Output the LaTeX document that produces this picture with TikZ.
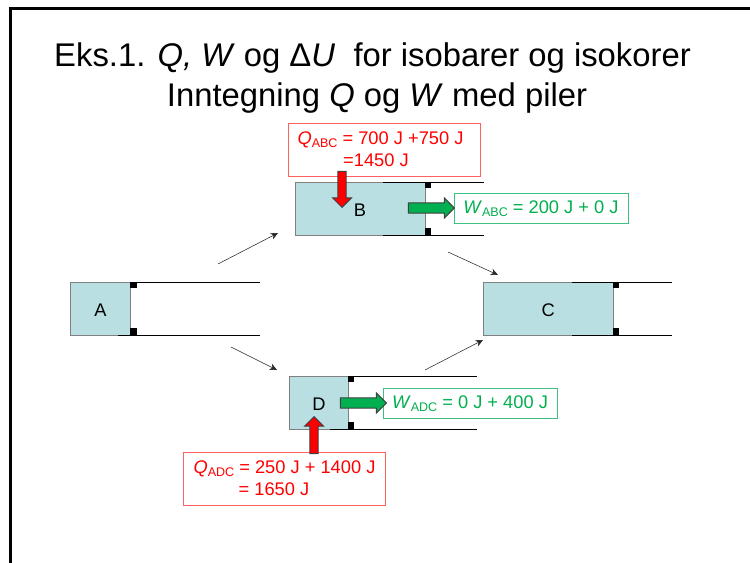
\documentclass[tikz,border=0pt]{standalone}
\usepackage{fontspec}
\setmainfont{Liberation Sans}
\usepackage{xcolor}
\usepackage{tikz}
\usetikzlibrary{shapes.arrows,arrows.meta}

\definecolor{pistonfill}{HTML}{B9DFE3}
\definecolor{qred}{HTML}{FF0000}
\definecolor{qedge}{HTML}{FF6060}
\definecolor{wgreen}{HTML}{00B050}
\definecolor{wedge}{HTML}{40C080}

\newcommand{\lowtext}[1]{\raisebox{-0.3ex}{\fontsize{9.4}{9.4}\selectfont #1}}

\tikzset{
    gas/.style={draw=black!50,line width=0.6pt,fill=pistonfill,inner sep=0pt,text height=11.3pt,text depth=0pt,font=\fontsize{13.7}{13.7}\selectfont},
    stopper/.style={fill=black,inner sep=0pt,minimum size=5pt},
    wall/.style={line width=0.7pt},
    pathline/.style={line width=0.4pt,black!85,-{Stealth[length=5.5pt,width=5pt]}},
    qbox/.style={draw=qedge,line width=0.6pt,fill=white,text=qred,align=center,inner sep=0pt,font=\fontsize{13.7}{16.5}\selectfont},
    wbox/.style={draw=wedge,line width=0.6pt,fill=white,text=wgreen,align=center,inner sep=0pt,text height=12pt,text depth=3.5pt,font=\fontsize{13.7}{16.5}\selectfont},
    heatarrow/.style={single arrow,draw=black!75,line width=0.7pt,fill=qred,anchor=tip,inner xsep=0pt,inner ysep=2.8pt,text width=0pt,text height=0pt,text depth=0pt,single arrow head extend=4pt,single arrow head indent=0pt,rotate=#1},
    workarrow/.style={single arrow,draw=black!75,line width=0.7pt,fill=wgreen,anchor=tip,inner xsep=0pt,inner ysep=3.5pt,text width=0pt,text height=0pt,text depth=0pt,single arrow head extend=3.6pt,single arrow head indent=0pt},
}

\begin{document}
\begin{tikzpicture}[x=0.75pt,y=0.75pt,yscale=-1,xscale=1]
        \useasboundingbox (0,0) rectangle (750,563);
        \draw [line width=2pt] (10.5,563) -- (10.5,8.5) -- (750,8.5) ;

        \node (title) at (372.5,58) [font=\fontsize{24.6}{30}\selectfont] {Eks.1. \textit{Q, W} og Δ\textit{U}\ \ for isobarer og isokorer};
        \node (subtitle) [font=\fontsize{24.6}{30}\selectfont] at (377,98) {Inntegning \textit{Q} og \textit{W} med piler};

        % sylinder A
        \coordinate (Atopstart) at (131,282);
        \coordinate (Atopend) at (260,282);
        \coordinate (Abotstart) at (118,335);
        \coordinate (Abotend) at (260,335);
        \node (A) at (100.5,308.5) [gas,minimum width=44.5pt,minimum height=39.75pt] {A};
        \draw [wall] (Atopstart) -- (Atopend) ;
        \draw [wall] (Abotstart) -- (Abotend) ;
        \node (stopAtop) at (133.3,285) [stopper] {};
        \node (stopAbot) at (133.3,331.7) [stopper] {};

        % sylinder B
        \coordinate (Btopstart) at (383,182);
        \coordinate (Btopend) at (484,182);
        \coordinate (Bbotstart) at (383,235);
        \coordinate (Bbotend) at (484,235);
        \node (B) at (360,208.5) [gas,minimum width=97.5pt,minimum height=39.75pt] {B};
        \draw [wall] (Btopstart) -- (Btopend) ;
        \draw [wall] (Bbotstart) -- (Bbotend) ;
        \node (stopBtop) at (428,185) [stopper] {};
        \node (stopBbot) at (428,231.5) [stopper] {};

        % sylinder C
        \coordinate (Ctopstart) at (571.7,282);
        \coordinate (Ctopend) at (672,282);
        \coordinate (Cbotstart) at (571.7,335);
        \coordinate (Cbotend) at (672,335);
        \node (C) at (548.3,308.5) [gas,minimum width=97.5pt,minimum height=39.75pt] {C};
        \draw [wall] (Ctopstart) -- (Ctopend) ;
        \draw [wall] (Cbotstart) -- (Cbotend) ;
        \node (stopCtop) at (616,285) [stopper] {};
        \node (stopCbot) at (616,331.7) [stopper] {};

        % sylinder D
        \coordinate (Dtopstart) at (349,376);
        \coordinate (Dtopend) at (477,376);
        \coordinate (Dbotstart) at (330,429);
        \coordinate (Dbotend) at (477,429);
        \node (D) at (319,402.5) [gas,minimum width=44.5pt,minimum height=39.75pt] {D};
        \draw [wall] (Dtopstart) -- (Dtopend) ;
        \draw [wall] (Dbotstart) -- (Dbotend) ;
        \node (stopDtop) at (351,379) [stopper] {};
        \node (stopDbot) at (351,425.7) [stopper] {};

        % tilstandsendringer
        \coordinate (ABstart) at (218,264);
        \coordinate (ABend) at (278,233);
        \coordinate (BCstart) at (448,252);
        \coordinate (BCend) at (498,275);
        \coordinate (ADstart) at (231,347);
        \coordinate (ADend) at (277,370);
        \coordinate (DCstart) at (425,370);
        \coordinate (DCend) at (483,340);
        \draw [pathline] (ABstart) -- (ABend) ;
        \draw [pathline] (BCstart) -- (BCend) ;
        \draw [pathline] (ADstart) -- (ADend) ;
        \draw [pathline] (DCstart) -- (DCend) ;

        % varme og arbeid
        \node (QABC) at (384,149.5) [qbox,minimum width=144pt,minimum height=39.75pt] {\textit{Q}\lowtext{ABC} = 700 J +750 J\hspace*{5.25pt}\\=1450 J\hspace*{12pt}};
        \node (WABC) at (541,208) [wbox,minimum width=130.5pt,minimum height=22.5pt] {\textit{W}\lowtext{ABC} = 200 J + 0 J};
        \node (WADC) at (470,403) [wbox,minimum width=130.5pt,minimum height=22.5pt] {\textit{W}\lowtext{ADC} = 0 J + 400 J};
        \node (QADC) at (284.5,478.5) [qbox,minimum width=152pt,minimum height=39.75pt] {\textit{Q}\lowtext{ADC} = 250 J + 1400 J\\= 1650 J\hspace*{15.75pt}};

        \node (heatB) at (342,208) [heatarrow=-90,minimum height=27pt,minimum width=14.25pt] {};
        \node (workB) at (455,208) [workarrow,minimum height=34.5pt,minimum width=14.25pt] {};
        \node (heatD) at (314,416) [heatarrow=90,minimum height=27.75pt,minimum width=13.5pt] {};
        \node (workD) at (387,403) [workarrow,minimum height=34.5pt,minimum width=14.25pt] {};
    \end{tikzpicture}
\end{document}
